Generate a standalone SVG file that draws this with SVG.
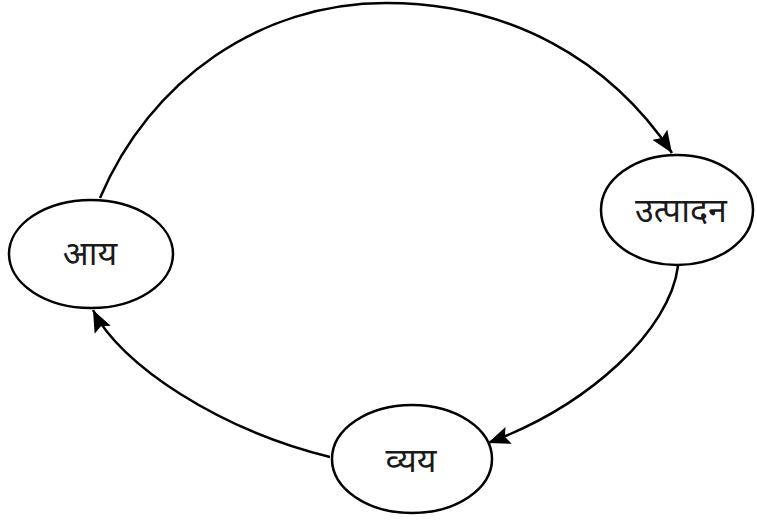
<svg xmlns="http://www.w3.org/2000/svg" width="757" height="520" viewBox="0 0 757 520">
<style>
.node ellipse{fill:#fff;stroke:#000;stroke-width:2.5}
.node text{font-family:"Noto Sans","Noto Sans Devanagari","Liberation Sans",sans-serif;font-size:34px;font-weight:normal;fill:#1a1a1a;text-anchor:middle}
.conn path{fill:none;stroke:#000;stroke-width:2.5}
</style>
<defs>
<marker id="arr" markerUnits="userSpaceOnUse" markerWidth="24" markerHeight="20" refX="22" refY="9" orient="auto">
<path d="M0,0 L22,9 L0,18 L4,9 Z" fill="#000"/>
</marker>
</defs>
<rect width="757" height="520" fill="#fff"/>
<g class="conn">
<path d="M100,198 C150,80 260,3 386,3 C510,3 610,60 672,153" marker-end="url(#arr)"/>
<path d="M678,266 C670,330 590,405 488,443" marker-end="url(#arr)"/>
<path d="M330,457 C220,430 120,365 93,310" marker-end="url(#arr)"/>
</g>
<g class="node" id="aay">
<ellipse cx="91" cy="254" rx="82" ry="54"/>
<text x="90" y="265">आय</text>
</g>
<g class="node" id="utpadan">
<ellipse cx="677" cy="210" rx="76" ry="55"/>
<text x="681" y="222">उत्पादन</text>
</g>
<g class="node" id="vyay">
<ellipse cx="412" cy="459" rx="80" ry="54"/>
<text x="411" y="472">व्यय</text>
</g>
</svg>
